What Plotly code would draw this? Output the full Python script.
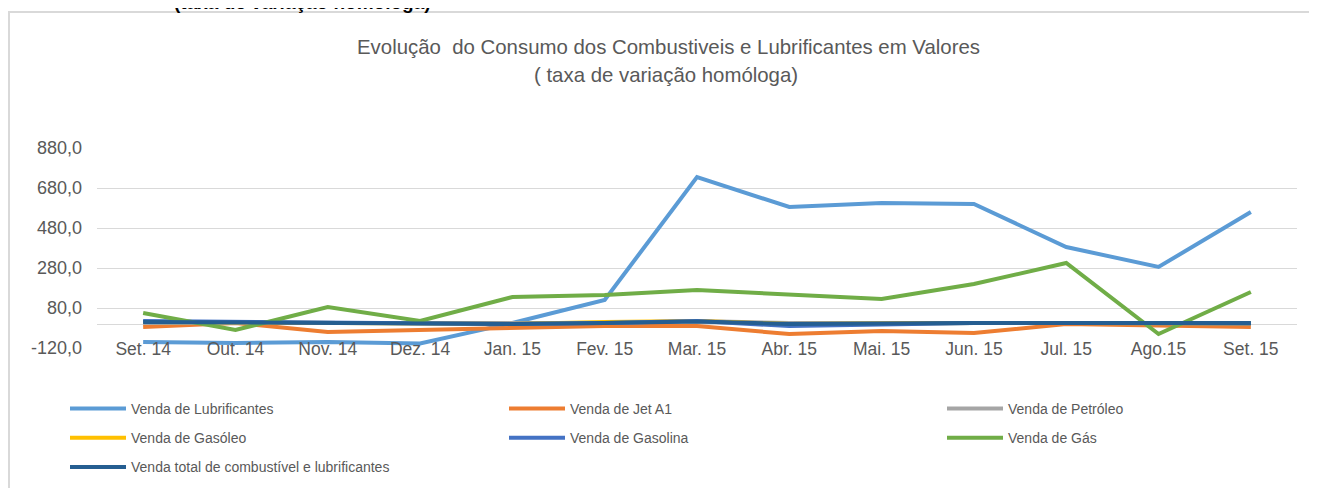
import plotly.graph_objects as go

categories = ["Set. 14", "Out. 14", "Nov. 14", "Dez. 14", "Jan. 15", "Fev. 15", "Mar. 15",
              "Abr. 15", "Mai. 15", "Jun. 15", "Jul. 15", "Ago.15", "Set. 15"]

lubrificantes = [-90, -95, -90, -97, 5, 120, 735, 585, 605, 600, 385, 285, 560]
jet_a1 = [-15, 5, -40, -30, -15, -10, -10, -50, -35, -45, 0, -5, -15]
petroleo = [5, 5, 5, 5, 5, 5, 15, 5, 5, 5, 5, 5, 5]
gasoleo = [10, 8, 5, 5, 0, 10, 15, 0, 5, 5, 5, 3, 3]
gasolina = [15, 10, 5, 5, 0, 5, 15, -10, 0, 5, 5, 3, 3]
gas = [55, -30, 85, 15, 135, 145, 170, 145, 125, 200, 305, -50, 160]
total = [10, 8, 5, 5, 0, 5, 12, 0, 5, 5, 5, 3, 5]

tick_vals = [-120, 80, 280, 480, 680, 880]
tick_text = ["-120,0", "80,0", "280,0", "480,0", "680,0", "880,0"]

series = [
    ("Venda de Lubrificantes", lubrificantes, "#5B9BD5", "legend"),
    ("Venda de Jet A1", jet_a1, "#ED7D31", "legend2"),
    ("Venda de Petróleo", petroleo, "#A5A5A5", "legend3"),
    ("Venda de Gasóleo", gasoleo, "#FFC000", "legend"),
    ("Venda de Gasolina", gasolina, "#4472C4", "legend2"),
    ("Venda de Gás", gas, "#70AD47", "legend3"),
    ("Venda total de combustível e lubrificantes", total, "#255E91", "legend"),
]

FONT = "Liberation Sans, Arial, sans-serif"
OFF = 8  # page body margin
W, H = 1309, 480
L, R, T, B = 89, 20, 140, 140
PW, PH = W - L - R, H - T - B

def px_x(page_x):
    return (page_x - OFF - L) / PW

def px_y(page_y):
    return (H - B - (page_y - OFF)) / PH

fig = go.Figure()
for name, vals, color, leg in series:
    fig.add_trace(go.Scatter(
        x=categories, y=vals, name=name, mode="lines",
        line=dict(color=color, width=4),
        legend=leg, legendgroup=name,
    ))

legend_common = dict(
    orientation="v", yanchor="top", xanchor="left",
    font=dict(family=FONT, size=14, color="#595959"),
    bgcolor="rgba(0,0,0,0)", itemwidth=56, tracegroupgap=8,
    traceorder="grouped", itemclick=False,
)

fig.update_layout(
    template="none",
    width=W, height=H,
    margin=dict(l=L, r=R, t=T, b=B, pad=0, autoexpand=False),
    paper_bgcolor="white", plot_bgcolor="white",
    font=dict(family=FONT, color="#595959"),
    showlegend=True,
    legend=dict(x=px_x(65), y=px_y(393), **legend_common),
    legend2=dict(x=px_x(504), y=px_y(393), **legend_common),
    legend3=dict(x=px_x(942), y=px_y(393), **legend_common),
    xaxis=dict(
        type="category", range=[-0.5, len(categories) - 0.5],
        showgrid=False, showline=False, zeroline=False, ticks="",
        automargin=False, ticklabelstandoff=-12,
        tickfont=dict(family=FONT, size=17.5, color="#595959"),
    ),
    yaxis=dict(
        range=[-120, 880], tickvals=tick_vals, ticktext=tick_text,
        showgrid=True, gridcolor="#D9D9D9", gridwidth=1,
        zeroline=True, zerolinecolor="#D9D9D9", zerolinewidth=1,
        showline=False, ticks="", automargin=False, ticklabelstandoff=14,
        tickfont=dict(family=FONT, size=18, color="#595959"),
    ),
)

fig.add_annotation(
    text="Evolução  do Consumo dos Combustiveis e Lubrificantes em Valores",
    xref="paper", yref="paper", x=px_x(668), y=px_y(47),
    xanchor="center", yanchor="middle", showarrow=False,
    font=dict(family=FONT, size=20.4, color="#595959"),
)
fig.add_annotation(
    text="( taxa de variação homóloga)",
    xref="paper", yref="paper", x=px_x(666), y=px_y(75),
    xanchor="center", yanchor="middle", showarrow=False,
    font=dict(family=FONT, size=20.4, color="#595959"),
)

fig.add_annotation(
    text="<b>(taxa de variação homóloga)</b>",
    xref="paper", yref="paper", x=px_x(302), y=px_y(3),
    xanchor="center", yanchor="middle", showarrow=False,
    font=dict(family=FONT, size=19, color="#000000"),
)

fig.add_shape(
    type="rect", xref="paper", yref="paper",
    x0=px_x(9), x1=px_x(1330), y0=px_y(500), y1=px_y(12),
    line=dict(color="#D9D9D9", width=2), fillcolor="rgba(0,0,0,0)", layer="below",
)

fig.write_html("out.html")
